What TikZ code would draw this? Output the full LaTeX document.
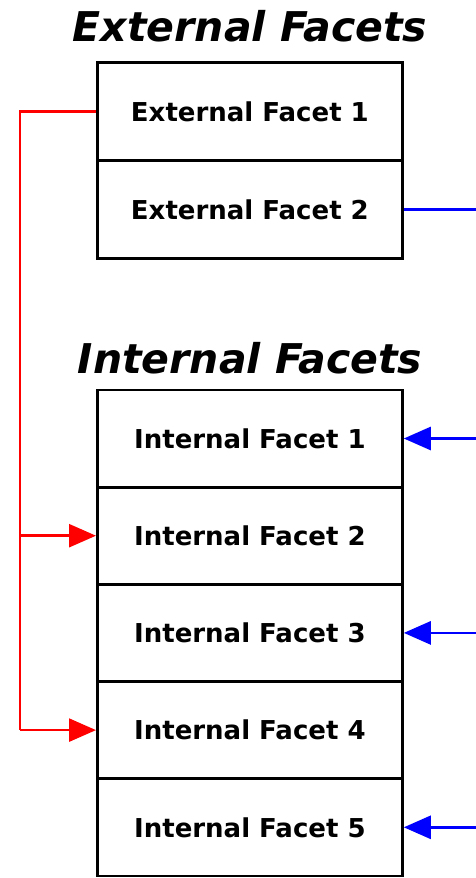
\documentclass[tikz,border=0pt]{standalone}
\usepackage{fontspec}
\setmainfont{DejaVu Sans}
\newfontfamily\cellfont{DejaVu Sans}
\usetikzlibrary{arrows.meta}
\tikzset{
  cell/.style={draw=black, line width=2.8pt, minimum width=305pt, minimum height=98pt, inner sep=0pt, font=\cellfont\bfseries\fontsize{26}{26}\selectfont, anchor=north west},
  icell/.style={cell, minimum height=97.2pt},
  ttl/.style={font=\bfseries\itshape\fontsize{41}{41}\selectfont},
  redln/.style={draw=red, line width=2.6pt},
  blueln/.style={draw=blue, line width=2.8pt},
  rtip/.style={-{Triangle[length=27pt,width=23pt]}},
}
\begin{document}
\begin{tikzpicture}[x=1pt,y=-1pt]
\useasboundingbox (0,0) rectangle (475,878);
\node[ttl] (t1) at (250,26) {External Facets};
\node[cell] (e1) at (96,61) {External Facet 1};
\node[cell] (e2) at (96,159) {External Facet 2};
\node[ttl] (t2) at (250,358) {Internal Facets};
\node[icell] (i1) at (96,388.5) {Internal Facet 1};
\node[icell] (i2) at (96,485.7) {Internal Facet 2};
\node[icell] (i3) at (96,582.9) {Internal Facet 3};
\node[icell] (i4) at (96,680.1) {Internal Facet 4};
\node[icell] (i5) at (96,777.3) {Internal Facet 5};
\coordinate (rl) at (20,0);
\coordinate (br) at (480,0);
% red
\draw[redln] (e1.west) -- (e1.west -| rl) -- (i4.west -| rl);
\draw[redln, rtip, fill=red] (i2.west -| rl) -- (i2.west);
\draw[redln, rtip, fill=red] (i4.west -| rl) -- (i4.west);
% blue
\draw[blueln] (e2.east) -- (e2.east -| br);
\draw[blueln, rtip, fill=blue] (i1.east -| br) -- (i1.east);
\draw[blueln, rtip, fill=blue] (i3.east -| br) -- (i3.east);
\draw[blueln, rtip, fill=blue] (i5.east -| br) -- (i5.east);
\end{tikzpicture}
\end{document}
